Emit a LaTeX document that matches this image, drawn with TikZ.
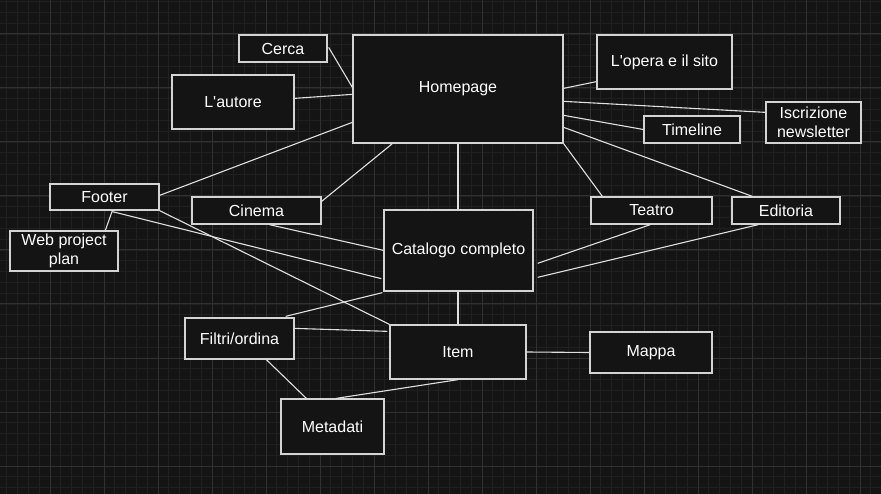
\documentclass[tikz,border=0pt]{standalone}
\usepackage{fontspec}
\setmainfont{Liberation Sans}
\usetikzlibrary{calc}
\definecolor{bg}{HTML}{141414}
\definecolor{minorgrid}{HTML}{202020}
\definecolor{majorgrid}{HTML}{313131}
\definecolor{boxline}{HTML}{D4D4D4}
\definecolor{linecol}{HTML}{E0E0E0}
\begin{document}
\begin{tikzpicture}[x=1pt,y=-1pt,
  box/.style={rectangle, draw=boxline, line width=1.3pt, fill=bg, text=white,
    font=\fontsize{16}{19.5}\selectfont, align=center, inner sep=0pt},
  conn/.style={draw=linecol, line width=1.1pt},
  mgrid/.style={draw=minorgrid, line width=0.8pt},
  Mgrid/.style={draw=majorgrid, line width=1pt}]
\useasboundingbox (0,0) rectangle (881,494);
\fill[bg] (0,0) rectangle (881,494);
% grid
\foreach \i in {-4,...,76} \draw[mgrid] ({50+10.8*\i},0) -- ({50+10.8*\i},494);
\foreach \j in {-3,...,42} \draw[mgrid] (0,{34+10.8*\j}) -- (881,{34+10.8*\j});
\foreach \i in {0,...,15} \draw[Mgrid] ({50+54*\i},0) -- ({50+54*\i},494);
\foreach \j in {0,...,8} \draw[Mgrid] (0,{34+54*\j}) -- (881,{34+54*\j});
% nodes
\node[box, minimum width=88pt,  minimum height=27pt] (cerca)    at (283,48.5)   {Cerca};
\node[box, minimum width=122pt, minimum height=54pt] (autore)   at (233,102)    {L\textquotesingle autore};
\node[box, minimum width=210pt, minimum height=108pt] (home)    at (458,89)     {Homepage};
\node[box, minimum width=135pt, minimum height=54pt] (opera)    at (664.5,62)   {L\textquotesingle opera e il sito};
\node[box, minimum width=95pt,  minimum height=41pt] (iscr)     at (813.5,122.5){Iscrizione\\newsletter};
\node[box, minimum width=96pt,  minimum height=27pt] (timeline) at (692,129.5)  {Timeline};
\node[box, minimum width=109pt, minimum height=26pt] (footer)   at (104.5,197)  {Footer};
\node[box, minimum width=108pt, minimum height=40pt] (web)      at (64,251)     {Web project\\plan};
\node[box, minimum width=129pt, minimum height=27pt] (cinema)   at (256.5,210.5){Cinema};
\node[box, minimum width=149pt, minimum height=81pt] (catalogo) at (458.5,250.5){Catalogo completo};
\node[box, minimum width=121pt, minimum height=27pt] (teatro)   at (651.5,210.5){Teatro};
\node[box, minimum width=108pt, minimum height=27pt] (editoria) at (786,210.5)  {Editoria};
\node[box, minimum width=109pt, minimum height=41pt] (filtri)   at (239.5,338.5){Filtri/ordina};
\node[box, minimum width=136pt, minimum height=54pt] (item)     at (458,352)    {Item};
\node[box, minimum width=103pt, minimum height=55pt] (metadati) at (332.5,426.5){Metadati};
\node[box, minimum width=122pt, minimum height=41pt] (mappa)    at (651,352.5)  {Mappa};
% connectors
\draw[conn] ([shift={(1,13)}]cerca.north east) -- ([shift={(0,53)}]home.north west);
\draw[conn] ([shift={(0,24)}]autore.north east) -- ([shift={(0,60)}]home.north west);
\draw[conn] ([shift={(0,12)}]footer.north east) -- ([shift={(0,88)}]home.north west);
\draw[conn] ([shift={(40,0)}]home.south west) -- ([shift={(0,5)}]cinema.north east);
\draw[conn] (home.south) -- (home.south |- catalogo.north);
\draw[conn] ([shift={(0,54)}]home.north east) -- ([shift={(0,-8)}]opera.south west);
\draw[conn] ([shift={(0,67)}]home.north east) -- ([shift={(0,11)}]iscr.north west);
\draw[conn] ([shift={(0,81)}]home.north east) -- (timeline.west);
\draw[conn] ([shift={(0,93)}]home.north east) -- ([shift={(21,0)}]editoria.north west);
\draw[conn] (home.south east) -- ([shift={(12,0)}]teatro.north west);
\draw[conn] ([shift={(63,0)}]footer.south west) -- ([shift={(96,0)}]web.north west);
\draw[conn] ([shift={(63,1)}]footer.south west) -- ([shift={(-2,-13)}]catalogo.south west);
\draw[conn] (footer.south east) -- (item.north west);
\draw[conn] ([shift={(78,0)}]cinema.south west) -- ([shift={(0,41)}]catalogo.north west);
\draw[conn] ([shift={(4,54)}]catalogo.north east) -- ([shift={(60,0)}]teatro.south west);
\draw[conn] ([shift={(4,68)}]catalogo.north east) -- ([shift={(27,0)}]editoria.south west);
\draw[conn] ([shift={(-1,1)}]catalogo.south west) -- ([shift={(-9,-1)}]filtri.north east);
\draw[conn] (catalogo.south -| item.north) -- (item.north);
\draw[conn] ([shift={(-1,11)}]filtri.north east) -- ([shift={(-2,7)}]item.north west);
\draw[conn] ([shift={(82,0)}]filtri.south west) -- ([shift={(26,0)}]metadati.north west);
\draw[conn] ([shift={(56,0)}]metadati.north west) -- (item.south);
\draw[conn] (item.east) -- (mappa.west);
\end{tikzpicture}
\end{document}
